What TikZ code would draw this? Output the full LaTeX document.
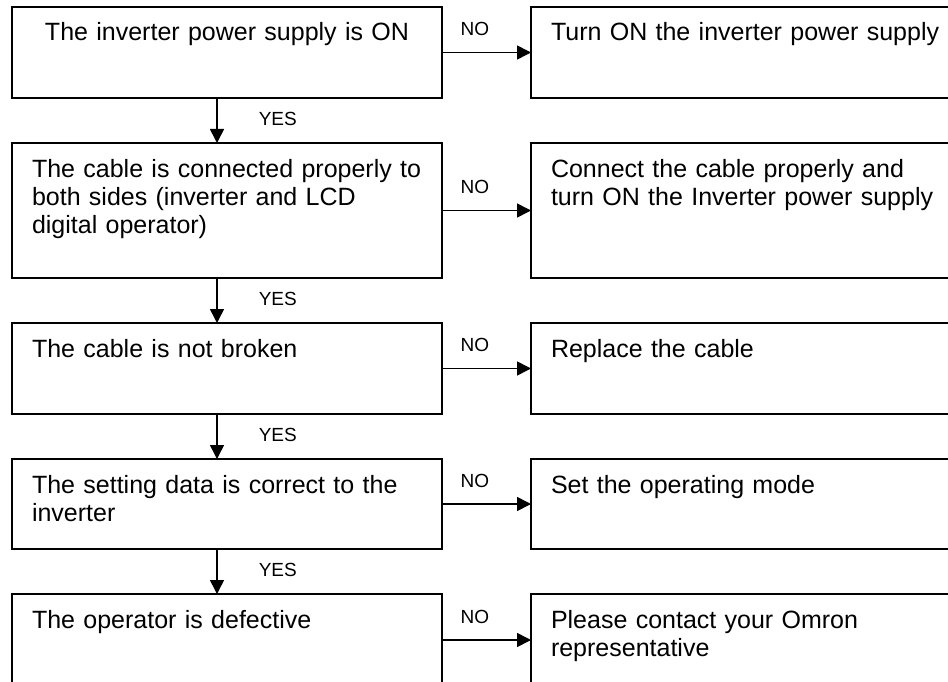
\documentclass[tikz,border=0pt]{standalone}
\usepackage{fontspec}
\setmainfont{Liberation Sans}
\usetikzlibrary{positioning,arrows.meta}

\begin{document}
\begin{tikzpicture}[
  node distance=33.75pt and 66.75pt,
  box/.style={draw, line width=1.4pt, outer sep=0pt, inner xsep=15pt, inner ysep=0pt,
    text width=292.5pt, align=left, text height=25.5pt,
    font=\fontsize{18.75}{21}\selectfont},
  answer/.style={box, text width=320pt},
  arrow/.style={-{Triangle[length=10.5pt,width=10.5pt]}, line width=1.2pt},
  lbl/.style={inner sep=0pt, font=\fontsize{14.25}{16}\selectfont},
  nolabel/.style={lbl, pos=0.37, anchor=base, yshift=12.75pt},
  yeslabel/.style={lbl, pos=0.62, anchor=base west, xshift=30.75pt}
]
\path[use as bounding box, clip] (0,0) rectangle (711pt,-510.75pt);

% checks
\node[box, align=center, anchor=north west, text depth=42.75pt] (q1) at (9pt,-5.25pt) {The inverter power supply is ON};
\node[box, below=of q1, text depth=75.75pt] (q2) {The cable is connected properly to\\both sides (inverter and LCD\\digital operator)};
\node[box, below=of q2, text depth=42.75pt] (q3) {The cable is not broken};
\node[box, below=of q3, text depth=42pt] (q4) {The setting data is correct to the\\inverter};
\node[box, below=of q4, text depth=43.5pt] (q5) {The operator is defective};

% remedies
\node[answer, right=of q1, text depth=42.75pt] (a1) {Turn ON the inverter power supply};
\node[answer, right=of q2, text depth=75.75pt] (a2) {Connect the cable properly and\\turn ON the Inverter power supply};
\node[answer, right=of q3, text depth=42.75pt] (a3) {Replace the cable};
\node[answer, right=of q4, text depth=42pt] (a4) {Set the operating mode};
\node[answer, right=of q5, text depth=43.5pt] (a5) {Please contact your Omron\\representative};

\draw[arrow] (q1.east) -- node[nolabel] {NO} (a1.west);
\draw[arrow] (q2.east) -- node[nolabel] {NO} (a2.west);
\draw[arrow] (q3.east) -- node[nolabel] {NO} (a3.west);
\draw[arrow] (q4.east) -- node[nolabel] {NO} (a4.west);
\draw[arrow] (q5.east) -- node[nolabel] {NO} (a5.west);

\draw[arrow] ([xshift=-7.5pt]q1.south) -- node[yeslabel] {YES} ([xshift=-7.5pt]q2.north);
\draw[arrow] ([xshift=-7.5pt]q2.south) -- node[yeslabel] {YES} ([xshift=-7.5pt]q3.north);
\draw[arrow] ([xshift=-7.5pt]q3.south) -- node[yeslabel] {YES} ([xshift=-7.5pt]q4.north);
\draw[arrow] ([xshift=-7.5pt]q4.south) -- node[yeslabel] {YES} ([xshift=-7.5pt]q5.north);
\end{tikzpicture}
\end{document}
